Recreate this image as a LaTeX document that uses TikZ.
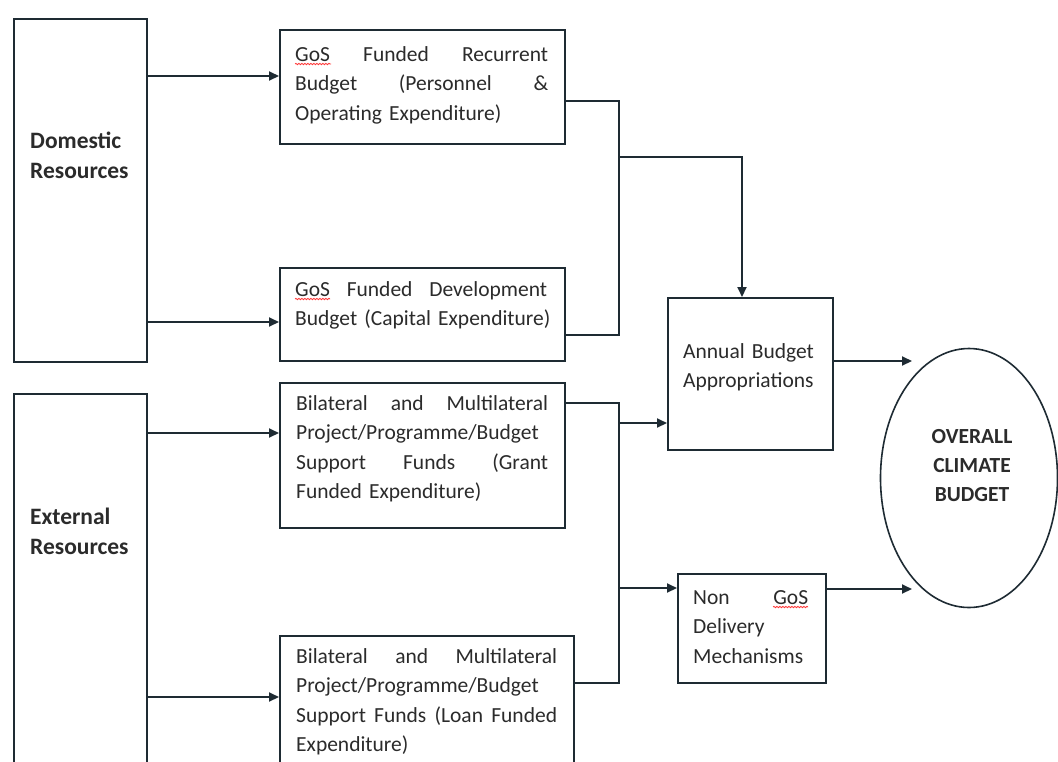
\documentclass[tikz,border=0pt]{standalone}
\usepackage{fontspec}
\setmainfont{Carlito}
\usetikzlibrary{arrows.meta,shapes.geometric,decorations.pathmorphing}
\definecolor{ln}{HTML}{1E2B33}
\definecolor{tx}{HTML}{2B2B2B}
\tikzset{
  box/.style={draw=ln, line width=2.4pt, rectangle, inner sep=0pt, anchor=north west},
  conn/.style={draw=ln, line width=2pt},
  arr/.style={conn, -{Triangle[length=10pt,width=9pt]}},
  body/.style={inner sep=0pt, anchor=base west, text=tx, text width=300pt, align=left,
    font=\fontsize{21.5}{29.5}\selectfont},
  side/.style={inner sep=0pt, anchor=base west, text=tx, text width=120pt, align=left,
    font=\fontsize{23.5}{30}\selectfont\bfseries},
  squig/.style={draw=red!80, line width=0.8pt, decorate,
    decoration={snake, amplitude=0.7pt, segment length=3pt}}
}
\begin{document}
\begin{tikzpicture}[x=1pt,y=-1pt]
\useasboundingbox (0,0) rectangle (1058,761);
\fill[white] (0,0) rectangle (1058,761);

% boxes
\node[box, minimum width=133pt, minimum height=343pt] (dom) at (13,18) {};
\node[box, minimum width=133pt, minimum height=372pt] (ext) at (13,393) {};
\node[box, minimum width=285pt, minimum height=114pt] (rec) at (279,29) {};
\node[box, minimum width=285pt, minimum height=93pt] (dev) at (279,267) {};
\node[box, minimum width=285pt, minimum height=145pt] (gra) at (279,382) {};
\node[box, minimum width=294pt, minimum height=130pt] (loa) at (279,635) {};
\node[box, minimum width=165pt, minimum height=152pt] (ann) at (667,297) {};
\node[box, minimum width=148pt, minimum height=109pt] (non) at (677,573) {};
\node[draw=ln, line width=1.6pt, ellipse, inner sep=0pt,
      minimum width=177pt, minimum height=259pt] (ell) at (969,478) {};

% texts
\node[side] (tdom) at (30,148) {Domestic\\Resources};
\node[side] (text) at (30,524) {External\\Resources};
\node[body] (trec) at (295,61) {\makebox[253pt]{GoS\hfill Funded\hfill Recurrent}\\
  \makebox[253pt]{Budget\hfill (Personnel\hfill \&}\\ \mbox{Operating Expenditure)}};
\node[body] (tdev) at (295,296) {\makebox[252pt]{GoS\hfill Funded\hfill Development}\\
  \mbox{Budget (Capital Expenditure)}};
\node[body] (tgra) at (296,410) {\makebox[252pt]{Bilateral\hfill and\hfill Multilateral}\\
  \mbox{Project/Programme/Budget}\\ \makebox[252pt]{Support\hfill Funds\hfill (Grant}\\
  \mbox{Funded Expenditure)}};
\node[body] (tloa) at (296,663) {\makebox[261pt]{Bilateral\hfill and\hfill Multilateral}\\
  \mbox{Project/Programme/Budget}\\ \makebox[261pt]{Support\hfill Funds\hfill (Loan\hfill Funded}\\
  \mbox{Expenditure)}};
\node[body] (tann) at (683,358) {Annual Budget\\Appropriations};
\node[body] (tnon) at (693,604) {\makebox[115pt]{Non\hfill GoS}\\Delivery\\Mechanisms};
\node[inner sep=0pt, anchor=base, text=tx, text width=120pt, align=center,
      font=\fontsize{21.5}{29}\selectfont\bfseries] (tell) at (972,443) {OVERALL\\CLIMATE\\BUDGET};

% spell-check squiggles
\draw[squig] (295,64) -- (331,64);
\draw[squig] (295,299) -- (330,299);
\draw[squig] (773,607) -- (808,607);

% coordinates
\coordinate (y1) at (0,76);
\coordinate (y2) at (0,322);
\coordinate (y3) at (0,433);
\coordinate (y4) at (0,697);
\coordinate (b1t) at (619,101);
\coordinate (b1b) at (619,335);
\coordinate (b1m) at (619,157);
\coordinate (k1) at (742,157);
\coordinate (b2t) at (619,403);
\coordinate (b2b) at (619,683);
\coordinate (b2a) at (619,423);
\coordinate (b2n) at (619,588);
\coordinate (e1) at (912,361);
\coordinate (e2) at (912,589);

% connectors
\draw[arr] (dom.east |- y1) -- (rec.west |- y1);
\draw[arr] (dom.east |- y2) -- (dev.west |- y2);
\draw[arr] (ext.east |- y3) -- (gra.west |- y3);
\draw[arr] (ext.east |- y4) -- (loa.west |- y4);
\draw[conn] (rec.east |- b1t) -- (b1t) -- (b1b) -- (dev.east |- b1b);
\draw[arr] (b1m) -- (k1) -- (k1 |- ann.north);
\draw[conn] (gra.east |- b2t) -- (b2t) -- (b2b) -- (loa.east |- b2b);
\draw[arr] (b2a) -- (ann.west |- b2a);
\draw[arr] (b2n) -- (non.west |- b2n);
\draw[arr] (ann.east |- e1) -- (e1);
\draw[arr] (non.east |- e2) -- (e2);
\end{tikzpicture}
\end{document}
